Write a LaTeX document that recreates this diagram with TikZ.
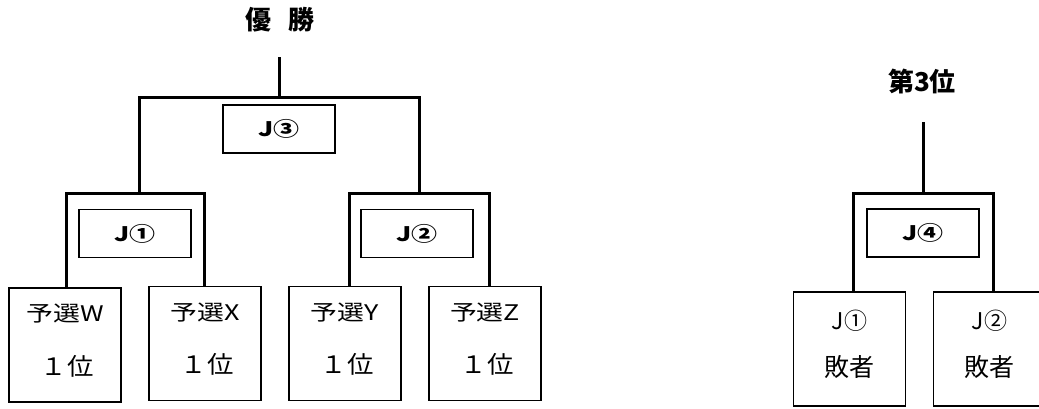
\documentclass[tikz,border=0pt]{standalone}
\usepackage{fontspec}
\setmainfont{Noto Sans CJK JP}
\newfontfamily\gwide{Noto Sans CJK JP}[FakeStretch=1.25]
\newfontfamily\jwide{Noto Sans CJK JP}[FakeStretch=1.3]
\newfontfamily\mwide{Noto Sans CJK JP}[FakeStretch=1.1]
\usetikzlibrary{calc}
\begin{document}
\begin{tikzpicture}[x=1pt,y=-1pt,
  team/.style={draw,line width=1.5pt,minimum width=112pt,minimum height=114pt,inner sep=0pt},
  judge/.style={draw,line width=1.2pt,minimum width=112pt,minimum height=48pt,inner sep=0pt,font=\jwide\fontsize{20}{22}\selectfont\bfseries},
  bracket/.style={line width=3pt,line cap=butt,line join=miter},
  lbla/.style={inner sep=0pt,font=\gwide\fontsize{21.5}{23}\selectfont},
  lblb/.style={inner sep=0pt,font=\mwide\fontsize{24}{26}\selectfont},
  lblc/.style={inner sep=0pt,font=\fontsize{23}{25}\selectfont},
  lbld/.style={inner sep=0pt,font=\fontsize{25}{27}\selectfont},
  title/.style={inner sep=0pt,font=\fontsize{26}{28}\selectfont\bfseries}]
\useasboundingbox (0,0) rectangle (1039,408);
% titles
\node[title] (yusho) at (280,19.5) {優\hspace{18pt}勝};
\node[title] (third) at (922,81) {第3位};
% bottom team boxes
\node[team] (w) at (65,345) {};
\node[team] (x) at (205,343.5) {};
\node[team] (y) at (345,343.5) {};
\node[team] (z) at (485,343.5) {};
\node[team] (l1) at (849.5,349) {};
\node[team] (l2) at (989.5,349) {};
% labels
\node[lbla] (wa) at ($(w.center)+(0,-31)$) {予選W};
\node[lblb] (wb) at ($(w.center)+(2,21)$) {１位};
\node[lbla] (xa) at ($(x.center)+(0,-31)$) {予選X};
\node[lblb] (xb) at ($(x.center)+(2,21)$) {１位};
\node[lbla] (ya) at ($(y.center)+(0,-31)$) {予選Y};
\node[lblb] (yb) at ($(y.center)+(2,21)$) {１位};
\node[lbla] (za) at ($(z.center)+(0,-31)$) {予選Z};
\node[lblb] (zb) at ($(z.center)+(2,21)$) {１位};
\node[lblc] (l1a) at ($(l1.center)+(0,-28)$) {J①};
\node[lbld] (l1b) at ($(l1.center)+(0,18)$) {敗者};
\node[lblc] (l2a) at ($(l2.center)+(0,-28)$) {J②};
\node[lbld] (l2b) at ($(l2.center)+(0,18)$) {敗者};
% judge boxes
\node[judge] (j3) at (279,129) {J③};
\node[judge] (j1) at (135,233.5) {J①};
\node[judge] (j2) at (417,233.5) {J②};
\node[judge] (j4) at (923,233) {J④};
% bracket coordinates
\coordinate (b1) at (135,193);
\coordinate (b2) at (419,193);
\coordinate (b3) at (279,97);
\coordinate (b4) at (923,193);
\coordinate (t1) at (279,57);
\coordinate (t2) at (923,122);
% brackets
\draw[bracket] ([xshift=1pt]w.north) |- (b1) -| ([xshift=-1pt]x.north);
\draw[bracket] ([xshift=4pt]y.north) |- (b2) -| ([xshift=4pt]z.north);
\draw[bracket] ([xshift=4pt]b1) |- (b3) -| (b2);
\draw[bracket] (b3) -- (t1);
\draw[bracket] ([xshift=3.5pt]l1.north) |- (b4) -| ([xshift=3.5pt]l2.north);
\draw[bracket] (b4) -- (t2);
\end{tikzpicture}
\end{document}
